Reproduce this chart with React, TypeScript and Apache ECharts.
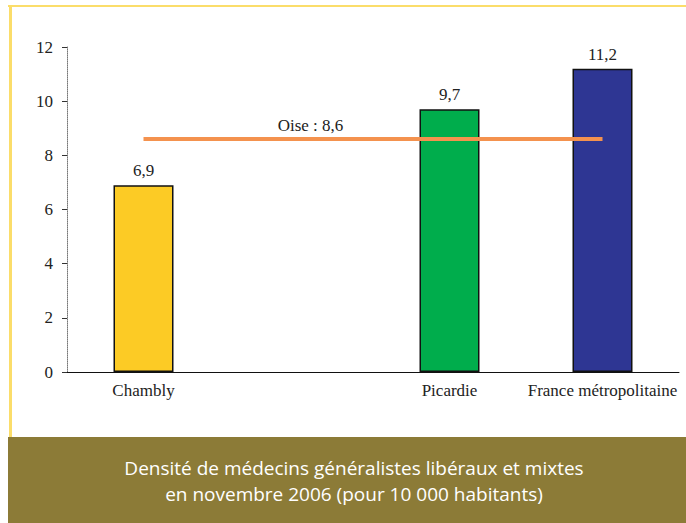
import React, { useEffect, useRef } from "react";
import * as echarts from "echarts";

const categories = ["Chambly", "", "Picardie", "France métropolitaine"];
const barValues = [6.9, null, 9.7, 11.2];
const barColors = ["#FCCB25", "#FFFFFF", "#00AD4C", "#2E3693"];
const oiseValue = 8.6;
const oiseLabel = "Oise : 8,6";
const yTicks = { min: 0, max: 12, interval: 2 };
const captionLines = [
  "Densité de médecins généralistes libéraux et mixtes",
  "en novembre 2006 (pour 10 000 habitants)",
];

export default function App() {
  const ref = useRef<HTMLDivElement>(null);
  useEffect(() => {
    if (!ref.current) return;
    const chart = echarts.init(ref.current, undefined, { renderer: "svg" });
    const serif = "Liberation Serif";
    chart.setOption({
      animation: false,
      backgroundColor: "#FFFFFF",
      grid: { left: 67, right: 7, top: 47, bottom: 151, containLabel: false },
      xAxis: {
        type: "category",
        data: categories,
        axisLine: { show: true, lineStyle: { color: "#111", width: 1 } },
        axisTick: { show: false },
        axisLabel: { fontFamily: serif, fontSize: 17, color: "#222", margin: 10, interval: 0 },
      },
      yAxis: {
        type: "value",
        min: yTicks.min,
        max: yTicks.max,
        interval: yTicks.interval,
        splitLine: { show: false },
        axisLine: { show: true, lineStyle: { color: "#777", width: 1, type: "dotted" } },
        axisTick: { show: true, length: 5, lineStyle: { color: "#333" } },
        axisLabel: { fontFamily: serif, fontSize: 17, color: "#222", margin: 14 },
      },
      series: [
        {
          type: "bar",
          barWidth: 60,
          data: barValues.map((v, i) => ({
            value: v,
            itemStyle: { color: barColors[i], borderColor: "#111", borderWidth: 1.5 },
          })),
          label: {
            show: true,
            position: "top",
            distance: 6,
            fontFamily: serif,
            fontSize: 17,
            color: "#222",
            formatter: (p: any) => (p.value == null ? "" : String(p.value).replace(".", ",")),
          },
        },
        {
          type: "line",
          data: categories.map((_, i) => ({
            value: oiseValue,
            label: i === 1 ? { show: true } : { show: false },
          })),
          symbol: "circle",
          symbolSize: 0,
          showSymbol: true,
          lineStyle: { color: "#F4924E", width: 4 },
          itemStyle: { color: "#F4924E" },
          label: {
            position: "top",
            distance: 5,
            offset: [14, 0],
            fontFamily: serif,
            fontSize: 17,
            color: "#222",
            formatter: () => oiseLabel,
          },
          z: 5,
        },
      ],
      graphic: [
        { type: "rect", shape: { x: 8, y: 5, width: 678, height: 2 }, style: { fill: "#FBDD6A" }, silent: true },
        { type: "rect", shape: { x: 9, y: 5, width: 3, height: 432 }, style: { fill: "#FBDD6A" }, silent: true },
        { type: "rect", shape: { x: 8, y: 437, width: 678, height: 86 }, style: { fill: "#8C7B37" }, silent: true },
        {
          type: "text",
          x: 354,
          y: 468,
          style: { text: captionLines[0], fill: "#FFFFFF", font: "19px 'Open Sans'", textAlign: "center", textVerticalAlign: "middle" },
        },
        {
          type: "text",
          x: 354,
          y: 494,
          style: { text: captionLines[1], fill: "#FFFFFF", font: "19px 'Open Sans'", textAlign: "center", textVerticalAlign: "middle" },
        },
      ],
    });
    return () => chart.dispose();
  }, []);
  return (
    <div
      ref={ref}
      style={{ position: "fixed", left: 0, top: 0, width: 686, height: 523 }}
    />
  );
}
